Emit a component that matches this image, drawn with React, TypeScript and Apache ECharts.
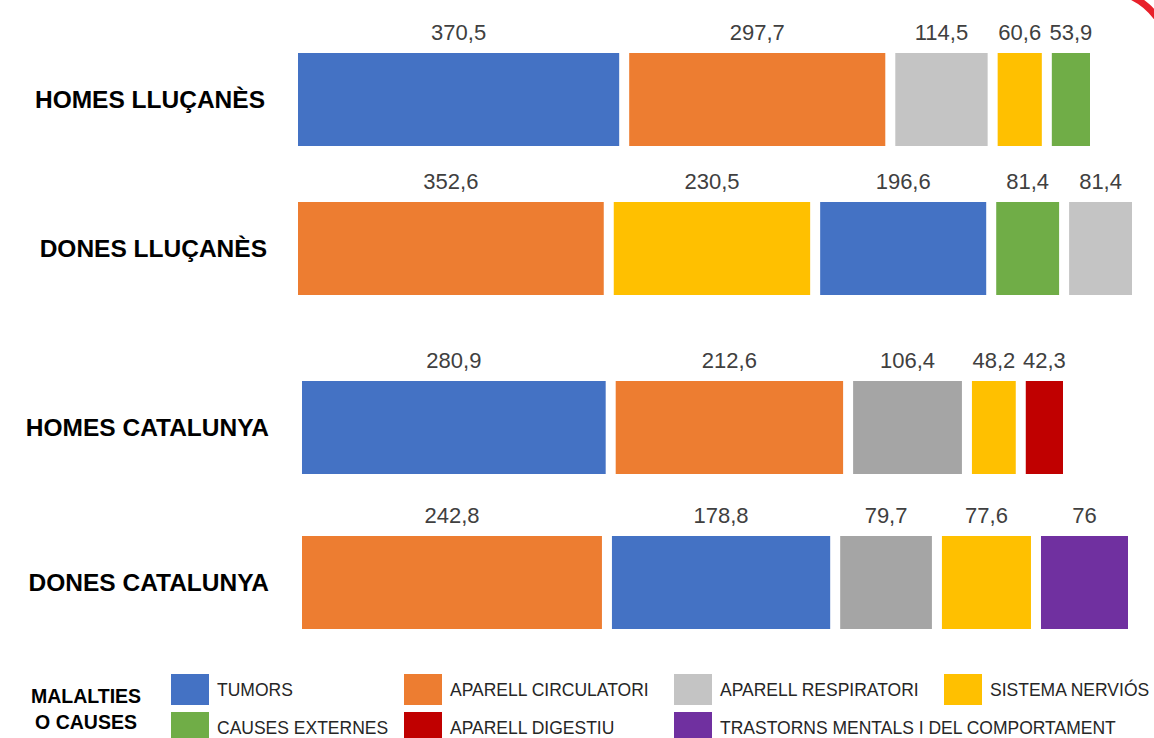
import React, { useEffect, useRef } from "react";
import * as echarts from "echarts";

// ---- DATA ----
const rowLabels = ["HOMES LLUÇANÈS", "DONES LLUÇANÈS", "HOMES CATALUNYA", "DONES CATALUNYA"];

const causes = [
  "TUMORS",
  "APARELL CIRCULATORI",
  "APARELL RESPIRATORI",
  "SISTEMA NERVIÓS",
  "CAUSES EXTERNES",
  "APARELL DIGESTIU",
  "TRASTORNS MENTALS I DEL COMPORTAMENT",
];

const homesLlucanesCauses = ["TUMORS", "APARELL CIRCULATORI", "APARELL RESPIRATORI", "SISTEMA NERVIÓS", "CAUSES EXTERNES"];
const homesLlucanesValues = [370.5, 297.7, 114.5, 60.6, 53.9];

const donesLlucanesCauses = ["APARELL CIRCULATORI", "SISTEMA NERVIÓS", "TUMORS", "CAUSES EXTERNES", "APARELL RESPIRATORI"];
const donesLlucanesValues = [352.6, 230.5, 196.6, 81.4, 81.4];

const homesCatalunyaCauses = ["TUMORS", "APARELL CIRCULATORI", "APARELL RESPIRATORI", "SISTEMA NERVIÓS", "APARELL DIGESTIU"];
const homesCatalunyaValues = [280.9, 212.6, 106.4, 48.2, 42.3];

const donesCatalunyaCauses = ["APARELL CIRCULATORI", "TUMORS", "APARELL RESPIRATORI", "SISTEMA NERVIÓS", "TRASTORNS MENTALS I DEL COMPORTAMENT"];
const donesCatalunyaValues = [242.8, 178.8, 79.7, 77.6, 76];

// ---- STYLE ----
const causeColors: Record<string, string> = {
  "TUMORS": "#4472C4",
  "APARELL CIRCULATORI": "#ED7D31",
  "APARELL RESPIRATORI": "#C4C4C4",
  "SISTEMA NERVIÓS": "#FFC000",
  "CAUSES EXTERNES": "#70AD47",
  "APARELL DIGESTIU": "#C00000",
  "TRASTORNS MENTALS I DEL COMPORTAMENT": "#7030A0",
};
const respiratoriDark = "#A5A5A5";

const FONT = "'Liberation Sans', Arial, Helvetica, sans-serif";

const rowsData = [
  { causes: homesLlucanesCauses, values: homesLlucanesValues },
  { causes: donesLlucanesCauses, values: donesLlucanesValues },
  { causes: homesCatalunyaCauses, values: homesCatalunyaValues },
  { causes: donesCatalunyaCauses, values: donesCatalunyaValues },
];

// layout per row (grid rects)
const gridLayout = [
  { left: 293, right: 59, top: 48, margin: 28 },
  { left: 293, right: 17, top: 197, margin: 26 },
  { left: 297, right: 86, top: 376, margin: 28 },
  { left: 297, right: 21, top: 531, margin: 28 },
];
const BAR_H = 103;

const legendPos = [
  { left: 171, top: 674 },
  { left: 404, top: 674 },
  { left: 674, top: 674 },
  { left: 944, top: 674 },
  { left: 171, top: 712 },
  { left: 404, top: 712 },
  { left: 674, top: 712 },
];

export default function App() {
  const ref = useRef<HTMLDivElement>(null);

  useEffect(() => {
    if (!ref.current) return;
    const chart = echarts.init(ref.current, undefined, { renderer: "svg" });

    const grids = gridLayout.map((g) => ({
      left: g.left,
      right: g.right,
      top: g.top,
      height: BAR_H,
      containLabel: false,
      outerBoundsMode: "none",
    }));
    const xAxes = rowsData.map((r, i) => ({
      type: "value",
      gridIndex: i,
      min: 0,
      max: r.values.reduce((a, b) => a + b, 0),
      show: false,
    }));
    const yAxes = rowsData.map((r, i) => ({
      type: "category",
      gridIndex: i,
      data: [rowLabels[i]],
      axisLine: { show: false },
      axisTick: { show: false },
      splitLine: { show: false },
      axisLabel: {
        margin: gridLayout[i].margin,
        color: "#000",
        fontWeight: "bold",
        fontSize: 24.5,
        fontFamily: FONT,
      },
    }));

    const series: any[] = [];
    rowsData.forEach((r, i) => {
      r.causes.forEach((c, j) => {
        let color = causeColors[c];
        if (c === "APARELL RESPIRATORI" && i >= 2) color = respiratoriDark;
        series.push({
          type: "bar",
          name: c,
          xAxisIndex: i,
          yAxisIndex: i,
          stack: "row" + i,
          barWidth: BAR_H,
          data: [r.values[j]],
          itemStyle: { color, borderColor: "#ffffff", borderWidth: 5 },
          label: {
            show: true,
            position: "top",
            distance: 5,
            color: "#404040",
            fontSize: 22,
            fontFamily: FONT,
            formatter: (p: any) => String(p.value).replace(".", ","),
          },
        });
      });
    });

    const legends = causes.map((c, k) => ({
      data: [{ name: c, itemStyle: { color: causeColors[c], borderWidth: 0 } }],
      left: legendPos[k].left,
      top: legendPos[k].top,
      padding: 0,
      itemWidth: 38,
      itemHeight: 31,
      icon: "rect",
      selectedMode: false,
      textStyle: {
        color: "#262626",
        fontSize: 17.5,
        fontFamily: FONT,
        padding: [0, 0, 0, 3],
      },
    }));

    chart.setOption({
      animation: false,
      backgroundColor: "#ffffff",
      grid: grids,
      xAxis: xAxes,
      yAxis: yAxes,
      legend: legends,
      series,
      graphic: [
        {
          type: "text",
          x: 86,
          y: 683,
          style: {
            text: "MALALTIES\nO CAUSES",
            fill: "#000",
            font: "bold 19.5px " + FONT,
            lineHeight: 26,
            align: "center",
            verticalAlign: "top",
          },
        },
        {
          type: "arc",
          shape: { cx: 1100, cy: 60, r: 71, startAngle: -1.25, endAngle: -0.45, clockwise: true },
          style: { stroke: "#E8202A", lineWidth: 7, fill: "none" },
          silent: true,
        },
      ],
    });

    return () => chart.dispose();
  }, []);

  return (
    <div
      ref={ref}
      style={{ position: "fixed", left: 0, top: 0, width: 1154, height: 738, background: "#fff" }}
    />
  );
}
